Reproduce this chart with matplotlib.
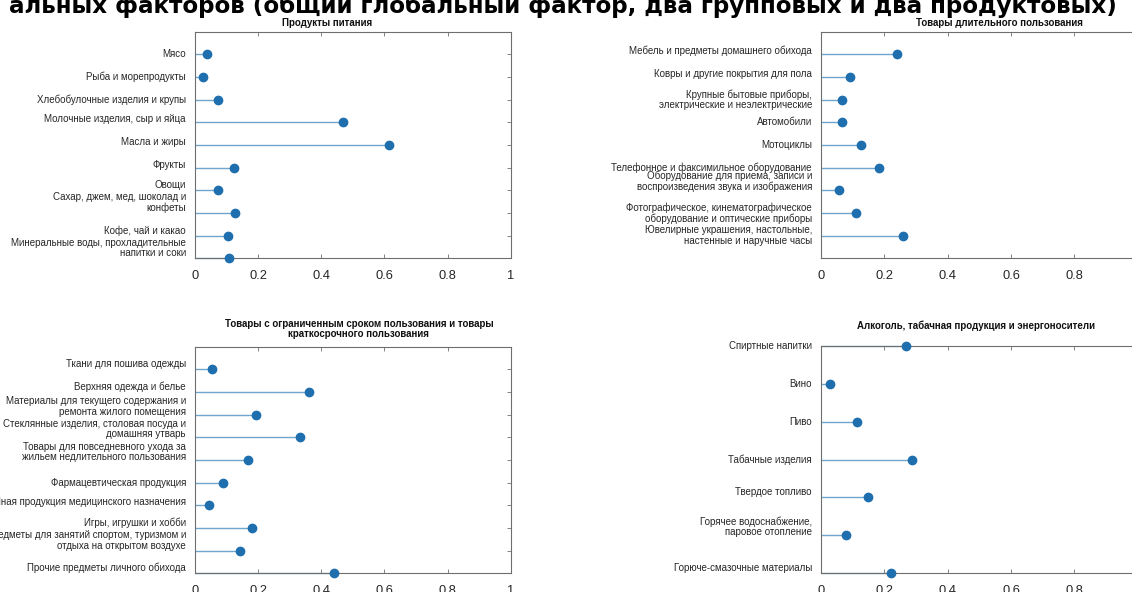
import matplotlib
matplotlib.use("Agg")
import matplotlib.pyplot as plt
import numpy as np

plt.rcParams['font.family'] = ['Liberation Sans', 'DejaVu Sans']

# --- data ---
food_labels = ["Мясо", "Рыба и морепродукты", "Хлебобулочные изделия и крупы",
               "Молочные изделия, сыр и яйца", "Масла и жиры", "Фрукты", "Овощи",
               "Сахар, джем, мед, шоколад и\nконфеты", "Кофе, чай и какао",
               "Минеральные воды, прохладительные\nнапитки и соки"]
food_vals = [0.038, 0.024, 0.074, 0.470, 0.615, 0.122, 0.072, 0.127, 0.105, 0.109]

durable_labels = ["Мебель и предметы домашнего обихода", "Ковры и другие покрытия для пола",
                  "Крупные бытовые приборы,\nэлектрические и неэлектрические", "Автомобили",
                  "Мотоциклы", "Телефонное и факсимильное оборудование",
                  "Оборудование для приема, записи и\nвоспроизведения звука и изображения",
                  "Фотографическое, кинематографическое\nоборудование и оптические приборы",
                  "Ювелирные украшения, настольные,\nнастенные и наручные часы"]
durable_vals = [0.240, 0.093, 0.065, 0.067, 0.125, 0.183, 0.056, 0.111, 0.258]

semi_labels = ["Ткани для пошива одежды", "Верхняя одежда и белье",
               "Материалы для текущего содержания и\nремонта жилого помещения",
               "Стеклянные изделия, столовая посуда и\nдомашняя утварь",
               "Товары для повседневного ухода за\nжильем недлительного пользования",
               "Фармацевтическая продукция", "Иная продукция медицинского назначения",
               "Игры, игрушки и хобби",
               "Предметы для занятий спортом, туризмом и\nотдыха на открытом воздухе",
               "Прочие предметы личного обихода"]
semi_vals = [0.055, 0.362, 0.192, 0.331, 0.169, 0.090, 0.045, 0.179, 0.144, 0.439]

alco_labels = ["Спиртные напитки", "Вино", "Пиво", "Табачные изделия", "Твердое топливо",
               "Горячее водоснабжение,\nпаровое отопление", "Горюче-смазочные материалы"]
alco_vals = [0.269, 0.027, 0.114, 0.287, 0.149, 0.079, 0.220]

xticks = [0, 0.2, 0.4, 0.6, 0.8, 1]
xtick_labels = ["0", "0.2", "0.4", "0.6", "0.8", "1"]

suptitle = "альных факторов (общий глобальный фактор, два групповых и два продуктовых)"

# --- layout ---
W, H = 1132, 592
fig = plt.figure(figsize=(W / 100, H / 100), dpi=100)

def px_rect(left, top, right, bottom):
    return [left / W, 1 - bottom / H, (right - left) / W, (bottom - top) / H]

panels = [
    # rect px, labels, values, ylim, title, title x, title y, label alignment
    (px_rect(195, 31.7, 510.8, 258.3), food_labels, food_vals, (10, 0),
     "Продукты питания", 0.418, 1.040,
     ['center', 'center', 'center', 'baseline', 'baseline', 'baseline',
      'bottom', 'bottom', 'bottom', 'bottom']),
    (px_rect(821, 31.7, 1137.7, 258.3), durable_labels, durable_vals, (10, 0),
     "Товары длительного пользования", 0.565, 1.040,
     ['baseline', 'baseline', 'center', 'center', 'center', 'center',
      'baseline', 'center', 'center']),
    (px_rect(195, 346.7, 510.8, 573.3), semi_labels, semi_vals, (10, 0),
     "Товары с ограниченным сроком пользования и товары\nкраткосрочного пользования",
     0.519, 1.077,
     ['bottom', 'bottom', 'baseline', 'baseline', 'baseline', 'center',
      'baseline', 'bottom', 'bottom', 'bottom']),
    (px_rect(821, 345.7, 1137.7, 573.3), alco_labels, alco_vals, (7, 1),
     "Алкоголь, табачная продукция и энергоносители", 0.488, 1.087,
     ['center', 'center', 'center', 'center', 'bottom', 'baseline', 'bottom']),
]

stem_color = '#6fa6cf'
dot_color = '#1f6fae'
edge_color = '#6e6e6e'

for rect, labels, vals, ylim, title, tx, ty, valign in panels:
    ax = fig.add_axes(rect)
    y = np.arange(1, len(vals) + 1)
    ax.hlines(y, 0, vals, color=stem_color, lw=1.0, clip_on=False)
    ax.plot(vals, y, 'o', ms=6, color=dot_color, clip_on=False, zorder=3)
    ax.set_xlim(0, 1)
    ax.set_ylim(*ylim)
    ax.set_yticks(y)
    ax.set_yticklabels(labels, fontsize=7.0, color='#262626')
    for lab, va in zip(ax.get_yticklabels(), valign):
        lab.set_va(va)
        lab.set_linespacing(1.05)
    ax.set_xticks(xticks)
    ax.set_xticklabels(xtick_labels, fontsize=9.3, color='#262626')
    ax.tick_params(axis='both', direction='in', top=True, right=True,
                   length=3, width=0.6, color=edge_color)
    ax.tick_params(axis='x', pad=8.5)
    ax.tick_params(axis='y', pad=6.5)
    for sp in ax.spines.values():
        sp.set_color(edge_color)
        sp.set_linewidth(0.8)
    ax.text(tx, ty, title, transform=ax.transAxes, ha='center', va='center',
            fontsize=7.0, fontweight='bold', color='#111111', linespacing=1.05)

fig.text(1116.5 / W, 1 - 12.5 / H, suptitle, ha='right', va='baseline',
         fontsize=16.6, fontweight='bold', color='black', family='DejaVu Sans')

fig.savefig("out.png", dpi=100)
